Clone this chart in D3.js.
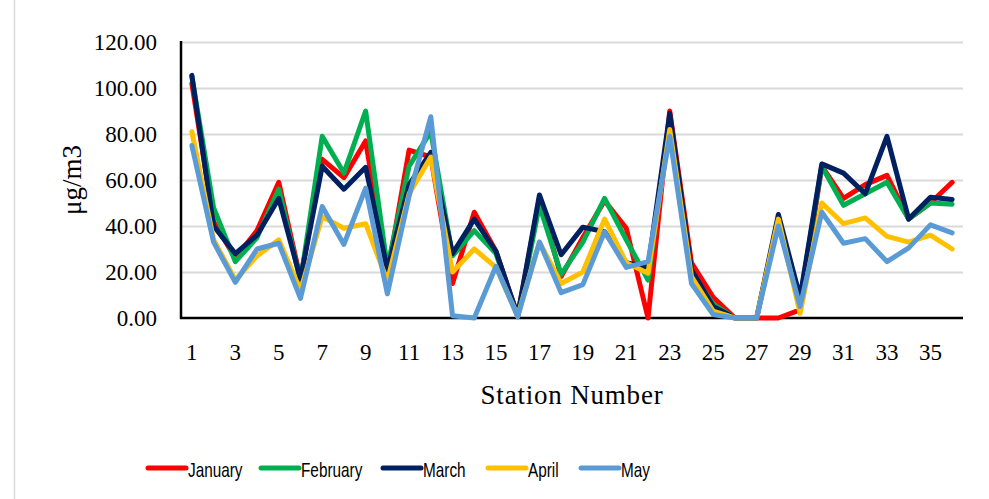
<!DOCTYPE html>
<html>
<head>
<meta charset="utf-8">
<script src="https://cdn.jsdelivr.net/npm/d3@7/dist/d3.min.js"></script>
<style>
  html, body { margin: 0; padding: 0; background: #fff; }
  svg { display: block; }
</style>
</head>
<body>
<svg id="chart" width="989" height="499"></svg>
<script>
const stations = d3.range(1, 37);
const xTickLabels = d3.range(1, 37, 2);
const yTickValues = [0, 20, 40, 60, 80, 100, 120];
const seriesNames = ["January", "February", "March", "April", "May"];
const seriesColors = ["#FF0000", "#00B050", "#002060", "#FFC000", "#5B9BD5"];

const january  = [102, 42, 26, 38, 59, 17, 69, 61, 77, 19, 73, 70, 15, 46, 29, 1, 52, 18, 35, 51, 39, 0, 90, 24, 9, 0, 0, 0, 3.5, 66, 52, 58, 62, 43, 50, 59];
const february = [105, 48, 24.5, 35, 56, 16, 79, 63, 90, 22, 66, 81, 27, 38, 28, 1, 49, 19, 33, 52, 34, 16.5, 87, 20, 6, 0, 0, 43, 8, 66, 49, 54, 59, 43, 50, 49.5];
const march    = [105.5, 40, 28, 36, 52, 17, 66, 56, 65.5, 21, 58, 72, 28, 43, 29, 1, 53.5, 27.5, 39.5, 37.5, 24, 22, 89, 21, 5, 0, 0, 45, 9, 67, 63, 54, 79, 43, 52.5, 51.5];
const april    = [81, 34, 16.5, 27, 34, 12, 44, 39, 41, 16, 54, 70, 20, 30, 22, 1, 33, 15, 20, 43, 24, 19.5, 82, 18, 3, 0, 0, 43, 2, 50, 41, 43.5, 35.5, 33, 36, 30];
const may      = [75, 33, 15.5, 30, 32.5, 8.5, 48.5, 32, 56.5, 10.5, 53, 87.5, 1, 0, 22.5, 0.5, 33, 11, 14.5, 37.5, 22, 24.5, 79, 15, 1.5, 0, 0, 40, 5, 46, 32.5, 34.5, 24.5, 30.5, 40.5, 37];

const seriesValues = [january, february, march, april, may];

const svg = d3.select("#chart");
const serif = "'Palatino Linotype', 'Book Antiqua', Palatino, 'Liberation Serif', serif";

// outer chart border (left edge visible)
svg.append("line")
  .attr("x1", 14.5).attr("x2", 14.5).attr("y1", 0).attr("y2", 499)
  .attr("stroke", "#d9d9d9").attr("stroke-width", 1.5);

const plotLeft = 181, plotRight = 963, plotTop = 42, plotBottom = 318;

const x = d3.scaleBand().domain(stations).range([plotLeft, plotRight]).padding(0);
const y = d3.scaleLinear().domain([0, 120]).range([plotBottom, plotTop]);
const cx = s => x(s) + x.bandwidth() / 2;

// gridlines
svg.append("g")
  .attr("transform", `translate(${plotLeft},0)`)
  .call(d3.axisLeft(y).tickValues(yTickValues.filter(v => v > 0)).tickSize(-(plotRight - plotLeft)).tickFormat(""))
  .call(g => g.select(".domain").remove())
  .call(g => g.selectAll(".tick line").attr("stroke", "#d9d9d9").attr("stroke-width", 2));

// y axis labels
svg.append("g")
  .attr("transform", `translate(${plotLeft},0)`)
  .call(d3.axisLeft(y).tickValues(yTickValues).tickSize(0).tickPadding(24).tickFormat(d3.format(".2f")))
  .call(g => g.select(".domain").remove())
  .call(g => g.selectAll("text").attr("font-family", serif).attr("font-size", 23).attr("fill", "#000"));

// x axis labels
svg.append("g")
  .attr("transform", `translate(0,${plotBottom})`)
  .call(d3.axisBottom(x).tickValues(xTickLabels).tickSize(0).tickPadding(26))
  .call(g => g.select(".domain").remove())
  .call(g => g.selectAll("text").attr("font-family", serif).attr("font-size", 23).attr("fill", "#000"));

// axis lines
svg.append("line")
  .attr("x1", plotLeft).attr("x2", plotLeft).attr("y1", plotTop - 1).attr("y2", plotBottom + 1)
  .attr("stroke", "#000").attr("stroke-width", 2.5);
svg.append("line")
  .attr("x1", plotLeft - 1).attr("x2", plotRight).attr("y1", plotBottom).attr("y2", plotBottom)
  .attr("stroke", "#000").attr("stroke-width", 2.5);

// lines
const line = d3.line().x((d, i) => cx(stations[i])).y(d => y(d));
seriesValues.forEach((vals, k) => {
  svg.append("path")
    .datum(vals)
    .attr("d", line)
    .attr("fill", "none")
    .attr("stroke", seriesColors[k])
    .attr("stroke-width", 5)
    .attr("stroke-linejoin", "round")
    .attr("stroke-linecap", "round");
});

// axis titles
svg.append("text")
  .attr("x", 572).attr("y", 404)
  .attr("text-anchor", "middle")
  .attr("font-family", serif).attr("font-size", 27)
  .attr("letter-spacing", 0.8)
  .text("Station Number");

svg.append("text")
  .attr("transform", "translate(81,180) rotate(-90)")
  .attr("text-anchor", "middle")
  .attr("font-family", serif).attr("font-size", 27)
  .text("μg/m3");

// legend
const legendX = [147, 260, 382, 487, 580];
const legend = svg.append("g");
seriesNames.forEach((name, k) => {
  const lx = legendX[k];
  legend.append("line")
    .attr("x1", lx + 1).attr("x2", lx + 39).attr("y1", 468).attr("y2", 468)
    .attr("stroke", seriesColors[k]).attr("stroke-width", 5).attr("stroke-linecap", "round");
  legend.append("text")
    .attr("transform", `translate(${lx + 41},476.5) scale(0.73,1)`)
    .attr("font-family", "'Liberation Sans', Arial, sans-serif")
    .attr("font-size", 21)
    .attr("fill", "#000")
    .text(name);
});
</script>
</body>
</html>
